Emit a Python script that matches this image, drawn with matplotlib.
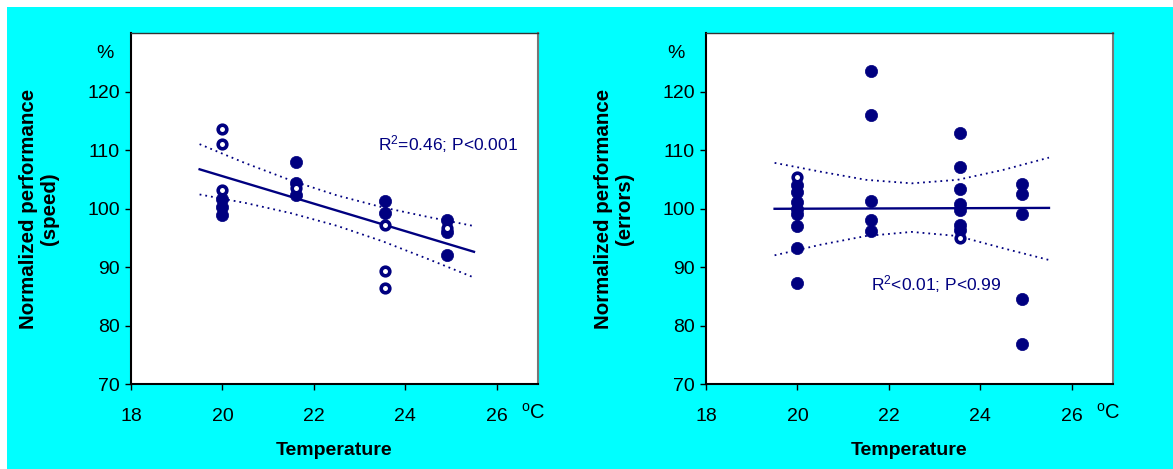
import matplotlib
matplotlib.use("Agg")
import matplotlib.pyplot as plt
from matplotlib.patches import Rectangle

plt.rcParams['font.family'] = ['Liberation Sans', 'DejaVu Sans']
plt.rcParams['mathtext.fontset'] = 'custom'
plt.rcParams['mathtext.rm'] = 'Liberation Sans'
plt.rcParams['mathtext.it'] = 'Liberation Sans:italic'
plt.rcParams['mathtext.bf'] = 'Liberation Sans:bold'

NAVY = '#000080'

# ---------------- data: speed (left) ----------------
speed_filled_x = [20, 20, 20, 21.6, 21.6, 21.6, 23.55, 23.55, 24.9, 24.9, 24.9]
speed_filled_y = [101.6, 100.3, 98.9, 107.9, 104.3, 102.3, 101.2, 99.2, 98.0, 96.0, 92.0]
speed_open_x = [20, 20, 20, 21.6, 23.55, 23.55, 23.55, 24.9]
speed_open_y = [113.6, 111.0, 103.2, 103.5, 97.1, 89.3, 86.4, 96.6]
speed_fit_x = [19.5, 25.5]
speed_fit_y = [106.7, 92.6]
ci_x = [19.5, 20.5, 21.5, 22.5, 23.5, 24.5, 25.5]
speed_ci_upper = [111.0, 107.75, 104.8, 102.25, 100.2, 98.55, 97.0]
speed_ci_lower = [102.4, 100.95, 99.2, 97.05, 94.4, 91.35, 88.2]
speed_note = 'R$^{2}$=0.46; P<0.001'

# ---------------- data: errors (right) ----------------
err_filled_x = [20, 20, 20, 20, 20, 20, 20, 20,
                21.6, 21.6, 21.6, 21.6, 21.6,
                23.55, 23.55, 23.55, 23.55, 23.55, 23.55, 23.55,
                24.9, 24.9, 24.9, 24.9, 24.9]
err_filled_y = [104.0, 102.8, 101.1, 100.0, 99.1, 97.0, 93.2, 87.3,
                123.5, 116.0, 101.2, 98.0, 96.1,
                112.9, 107.1, 103.3, 100.7, 99.8, 97.1, 96.3,
                104.2, 102.4, 99.0, 84.5, 76.8]
err_open_x = [20, 23.55]
err_open_y = [105.4, 95.0]
err_fit_x = [19.5, 25.5]
err_fit_y = [99.95, 100.1]
err_ci_upper = [107.8, 106.3, 104.9, 104.3, 104.9, 106.6, 108.7]
err_ci_lower = [92.0, 93.8, 95.3, 96.0, 95.3, 93.2, 91.2]
err_note = 'R$^{2}$<0.01; P<0.99'

x_ticks = [18, 20, 22, 24, 26]
y_ticks = [70, 80, 90, 100, 110, 120]

W, H = 1173, 469
fig = plt.figure(figsize=(W / 100, H / 100), dpi=100, facecolor='white')
fig.patches.append(Rectangle((7 / W, 0), 1 - 7 / W, (H - 7) / H, transform=fig.transFigure,
                             facecolor='#00FFFF', edgecolor='none', zorder=-10))


def panel(left_px, fx, fy, ox, oy, fitx, fity, up, lo, note, note_xy, ylabel, pct_off):
    ax = fig.add_axes([left_px / W, (H - 384) / H, 407 / W, 351 / H])
    ax.set_facecolor('white')
    ax.set_xlim(18, 26.9)
    ax.set_ylim(70, 130)
    ax.set_xticks(x_ticks)
    ax.set_yticks(y_ticks)
    ax.tick_params(labelsize=14, length=4, width=1, direction='out', colors='black', pad=4)
    ax.tick_params(axis='x', pad=13)
    for s in ['left', 'bottom']:
        ax.spines[s].set_color('black')
        ax.spines[s].set_linewidth(1.5)
    ax.spines['top'].set_color('#333333')
    ax.spines['top'].set_linewidth(1.0)
    ax.spines['right'].set_color('#777777')
    ax.spines['right'].set_linewidth(1.5)

    ax.plot(ci_x, up, color=NAVY, lw=1.3, linestyle=(0, (1, 2.2)), zorder=2)
    ax.plot(ci_x, lo, color=NAVY, lw=1.3, linestyle=(0, (1, 2.2)), zorder=2)
    ax.plot(fitx, fity, color=NAVY, lw=1.7, zorder=3)
    ax.plot(fx, fy, linestyle='none', marker='o', ms=8.8, mfc=NAVY, mec=NAVY, mew=0.5, zorder=4)
    ax.plot(ox, oy, linestyle='none', marker='o', ms=6.2, mfc='white', mec=NAVY, mew=2.6, zorder=5)

    ax.text(note_xy[0], note_xy[1], note, color=NAVY, fontsize=12.5, va='baseline', ha='left')
    ax.set_xlabel('Temperature', fontsize=14, fontweight='bold')
    ax.set_ylabel(ylabel, fontsize=14.8, fontweight='bold', linespacing=1.15)
    ax.yaxis.set_label_coords(-92 / 407, 0.5)
    ax.xaxis.set_label_coords(0.5, -(450 - 384) / 351)
    ax.xaxis.label.set_va('center')
    ax.yaxis.label.set_va('center')
    ax.text(-pct_off / 407, (384 - 53) / 351, '%', transform=ax.transAxes, fontsize=14,
            ha='center', va='center')
    ax.text(1 - 5 / 407, -(413 - 384) / 351, '$^{\\rm o}$C', transform=ax.transAxes, fontsize=14.5,
            ha='center', va='center')
    return ax


panel(131, speed_filled_x, speed_filled_y, speed_open_x, speed_open_y, speed_fit_x, speed_fit_y,
      speed_ci_upper, speed_ci_lower, speed_note, (23.41, 109.9),
      'Normalized performance\n(speed)', 26.5)
panel(706, err_filled_x, err_filled_y, err_open_x, err_open_y, err_fit_x, err_fit_y,
      err_ci_upper, err_ci_lower, err_note, (21.6, 86.0),
      'Normalized performance\n(errors)', 30)

fig.savefig('out.png', dpi=100, facecolor=fig.get_facecolor())
